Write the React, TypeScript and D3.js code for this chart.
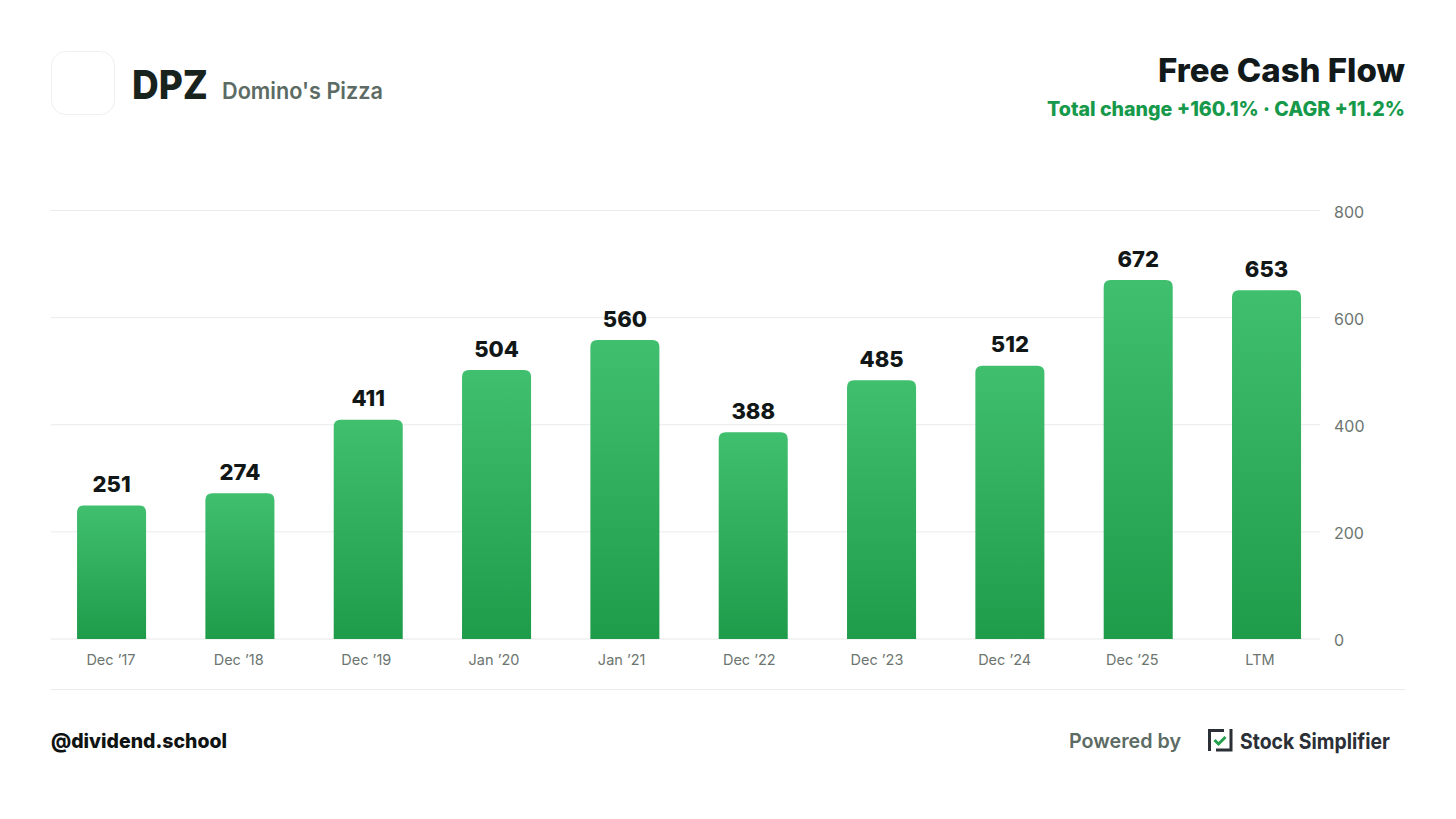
import * as d3 from 'd3';
import * as React from 'react';

const { useRef, useEffect } = React;

const width = 1456;
const height = 819;
const margin = { top: 210.5, right: 136, bottom: 180, left: 51 };

const categories = ['Dec ’17', 'Dec ’18', 'Dec ’19', 'Jan ’20', 'Jan ’21', 'Dec ’22', 'Dec ’23', 'Dec ’24', 'Dec ’25', 'LTM'];
const freeCashFlow = [251, 274, 411, 504, 560, 388, 485, 512, 672, 653];
const yTicks = [0, 200, 400, 600, 800];

const font = 'Inter, sans-serif';

// rounded only on the top corners
function barPath(x: number, y: number, w: number, h: number, r: number) {
  const p = d3.path();
  p.moveTo(x, y + h);
  p.lineTo(x, y + r);
  p.quadraticCurveTo(x, y, x + r, y);
  p.lineTo(x + w - r, y);
  p.quadraticCurveTo(x + w, y, x + w, y + r);
  p.lineTo(x + w, y + h);
  p.closePath();
  return p.toString();
}

export default () => {
  const rootRef = useRef<SVGSVGElement>(null);

  useEffect(() => {
    const svg = d3.select(rootRef.current);
    svg.selectAll('*').remove();

    const x = d3
      .scaleBand<string>()
      .domain(categories)
      .range([47.4, 1330.7])
      .paddingInner(0.462)
      .paddingOuter(0.231);

    // the month labels sit on a slightly tighter spacing than the bars
    const xLabel = d3.scalePoint<string>().domain(categories).range([111, 1260]);

    const y = d3
      .scaleLinear()
      .domain([0, 800])
      .range([height - margin.bottom, margin.top]);

    // each bar runs the full gradient over its own height
    const grad = svg
      .append('defs')
      .append('linearGradient')
      .attr('id', 'barFill')
      .attr('x1', 0)
      .attr('x2', 0)
      .attr('y1', 0)
      .attr('y2', 1);
    grad.append('stop').attr('offset', '0%').attr('stop-color', '#40bf6e');
    grad.append('stop').attr('offset', '100%').attr('stop-color', '#1f9c4a');

    const text = (
      tx: number,
      ty: number,
      s: string,
      size: number,
      weight: number,
      fill: string,
      anchor = 'start',
      len?: number,
    ) => {
      const t = svg
        .append('text')
        .attr('x', tx)
        .attr('y', ty)
        .attr('font-family', font)
        .attr('font-size', size)
        .attr('font-weight', weight)
        .attr('fill', fill)
        .attr('text-anchor', anchor)
        .text(s);
      if (len) t.attr('textLength', len).attr('lengthAdjust', 'spacingAndGlyphs');
      return t;
    };

    // header
    svg
      .append('rect')
      .attr('x', 51.5)
      .attr('y', 51.5)
      .attr('width', 63)
      .attr('height', 63)
      .attr('rx', 14)
      .attr('fill', '#fff')
      .attr('stroke', '#eeefee');
    text(132, 98.5, 'DPZ', 40, 800, '#18231e', 'start', 76);
    text(222, 98.5, 'Domino\'s Pizza', 22.5, 600, '#5c6b64', 'start', 161);
    text(1405, 82, 'Free Cash Flow', 32, 800, '#12191a', 'end', 247);
    text(1405, 115.5, 'Total change +160.1% · CAGR +11.2%', 20, 800, '#16994a', 'end', 358);

    // grid
    const grid = svg.append('g');
    grid
      .selectAll('line')
      .data(yTicks)
      .join('line')
      .attr('x1', margin.left)
      .attr('x2', width - margin.right)
      .attr('y1', d => y(d))
      .attr('y2', d => y(d))
      .attr('stroke', d => (d === 0 ? '#e6e8e7' : '#e9ebea'));

    // y axis
    const yAxis = svg
      .append('g')
      .attr('transform', `translate(${width - margin.right + 14},0)`)
      .call(d3.axisRight(y).tickValues(yTicks).tickSize(0).tickPadding(0).tickFormat(d3.format('d') as any));
    yAxis.select('.domain').remove();
    yAxis
      .selectAll('text')
      .attr('font-family', font)
      .attr('font-size', 16)
      .attr('fill', '#6c7570')
      .attr('dy', '0.55em')
      .attr('y', -2);

    // bars
    svg
      .append('g')
      .selectAll('path')
      .data(freeCashFlow)
      .join('path')
      .attr('d', (d, i) => barPath(x(categories[i]) as number, y(d) + 1, x.bandwidth(), y(0) - y(d) - 1, 7))
      .attr('fill', 'url(#barFill)');

    // value labels
    svg
      .append('g')
      .selectAll('text')
      .data(freeCashFlow)
      .join('text')
      .attr('x', (d, i) => (x(categories[i]) as number) + x.bandwidth() / 2)
      .attr('y', d => y(d) - 12.5)
      .attr('text-anchor', 'middle')
      .attr('font-family', font)
      .attr('font-size', 22)
      .attr('font-weight', 800)
      .attr('fill', '#111716')
      .text(d => d);

    // month labels
    svg
      .append('g')
      .selectAll('text')
      .data(categories)
      .join('text')
      .attr('x', d => xLabel(d) as number)
      .attr('y', 665)
      .attr('text-anchor', 'middle')
      .attr('font-family', font)
      .attr('font-size', 14.5)
      .attr('fill', '#6c7570')
      .text(d => d);

    // footer
    svg
      .append('line')
      .attr('x1', 51)
      .attr('x2', 1405)
      .attr('y1', 689.5)
      .attr('y2', 689.5)
      .attr('stroke', '#e9ebea');
    text(51, 747.5, '@dividend.school', 20, 800, '#0f1413', 'start', 176);
    text(1069, 747.5, 'Powered by', 20, 600, '#5c6b64', 'start', 112);

    const logo = svg.append('g').attr('fill', 'none').attr('stroke-width', 3);
    logo.append('path').attr('d', 'M1209.5 751V730.5H1224').attr('stroke', '#2b2f36');
    logo.append('path').attr('d', 'M1231 729V750H1216').attr('stroke', '#2b2f36');
    logo
      .append('path')
      .attr('d', 'M1214.5 740L1218.5 744L1225.5 737')
      .attr('stroke', '#22a04c');
    text(1240, 748.5, 'Stock Simplifier', 22, 700, '#2b2f36', 'start', 150);
  }, []);

  return (
    <svg
      ref={rootRef}
      width={width}
      height={height}
      style={{ position: 'absolute', left: 0, top: 0, background: '#fff' }}
    />
  );
};
